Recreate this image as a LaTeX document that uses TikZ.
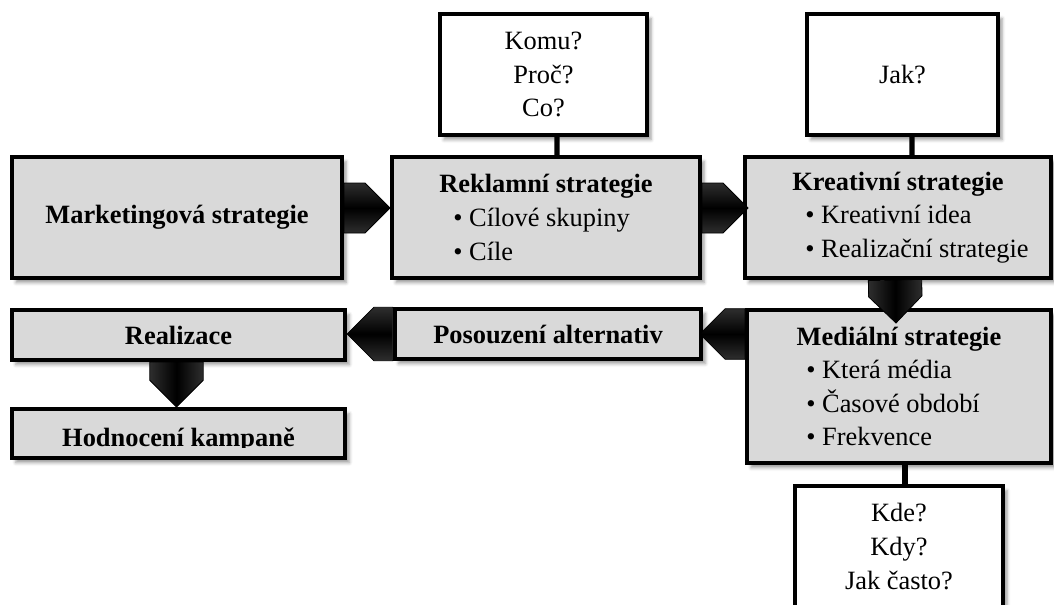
\documentclass[tikz,border=0pt]{standalone}
\usepackage{fontspec}
\setmainfont{Liberation Serif}
\usetikzlibrary{calc,shadows.blur}
\definecolor{boxgray}{RGB}{217,217,217}
\tikzstyle{box} = [draw=black, line width=3pt, fill=boxgray, align=center, inner sep=0pt, font=\fontsize{19.8}{25.2}\selectfont, blur shadow={shadow xshift=3pt, shadow yshift=-3.5pt, shadow blur radius=2.5pt}]
\tikzstyle{qbox} = [box, fill=white]
\tikzstyle{link} = [line width=4pt]
\tikzstyle{barrow} = [draw=black, line width=0.6pt, top color=black!82, bottom color=black!82, middle color=black]

\newlength{\bulw}
\setlength{\bulw}{139pt}
\newcommand{\bitem}[1]{\makebox[\bulw][l]{\textbullet\ #1}}
% block arrow: start, tip, half width, shading angle
\newcommand{\blockarrow}[4]{%
    \path (#1) coordinate (ba-s) (#2) coordinate (ba-t);
    \path ($(ba-t)!#3!(ba-s)$) coordinate (ba-h);
    \shade[barrow, shading angle=#4] ($(ba-s)!#3!90:(ba-t)$) -- ($(ba-h)!#3!90:(ba-t)$) -- (ba-t)
        -- ($(ba-h)!#3!-90:(ba-t)$) -- ($(ba-s)!#3!-90:(ba-t)$) -- cycle;
}

\begin{document}
\begin{tikzpicture}[x=0.75pt, y=-0.75pt]
    \path[use as bounding box, clip] (0,0) rectangle (1054,604);

    % Question boxes
    \node[qbox, minimum width=155.25pt, minimum height=90.75pt] (komu) at (543.5,74.5) {Komu?\\Proč?\\Co?};
    \node[qbox, minimum width=143.25pt, minimum height=90.75pt] (jak) at (902.5,74.5) {Jak?};

    % Top row
    \node[box, minimum width=247.5pt, minimum height=90.75pt] (mark) at (177,217.5) {\textbf{Marketingová strategie}};
    \node[box, minimum width=231pt, minimum height=90.75pt] (rek) at (546,217.5)
        {\textbf{Reklamní strategie}\\\bitem{Cílové skupiny}\\\bitem{Cíle}};
    \node[box, minimum width=229.5pt, minimum height=90.75pt] (kreat) at (898,217.5)
        {\textbf{Kreativní strategie}\\\bitem{Kreativní idea}\\\bitem{Realizační strategie}};

    % Links to questions
    \draw[link] ([xshift=10.1pt]komu.south) -- ([xshift=8.25pt]rek.north);
    \draw[link] ([xshift=7.1pt]jak.south) -- ([xshift=10.5pt]kreat.north);

    % Second row
    \node[box, minimum width=250pt, minimum height=37.5pt] (realiz) at (178.5,335) {\textbf{Realizace}};
    \node[box, minimum width=230pt, minimum height=37.5pt] (posouz) at (548,334) {\textbf{Posouzení alternativ}};
    \node[box, minimum width=228pt, minimum height=114.75pt] (media) at (899,386.5)
        {\textbf{Mediální strategie}\\\bitem{Která média}\\\bitem{Časové období}\\\bitem{Frekvence}};

    % Evaluation box, text cut at the bottom
    \node[box, minimum width=250pt, minimum height=36.75pt] (hodn) at (178.5,433.5) {};
    \begin{scope}
        \clip (hodn.north west) rectangle ([yshift=9.75pt]hodn.south east);
        \node[anchor=base, inner sep=0pt, font=\fontsize{19.8}{25.2}\selectfont] (hodntxt) at ([yshift=-10.1pt]hodn.center) {\textbf{Hodnocení kampaně}};
    \end{scope}

    % Media questions
    \node[qbox, minimum width=156pt, minimum height=90.75pt] (kde) at (899,546.5) {Kde?\\Kdy?\\Jak často?};
    \draw[link] ([xshift=4.5pt]media.south) -- ([xshift=4.5pt]kde.north);

    % Block arrows
    \blockarrow{[yshift=7.1pt]mark.east}{[yshift=7.1pt]rek.west}{18.75pt}{0}
    \blockarrow{[yshift=7.1pt]rek.east}{[xshift=3.75pt, yshift=7.1pt]kreat.west}{18.75pt}{0}
    \blockarrow{[xshift=-2.25pt]kreat.south}{[xshift=-2.25pt, yshift=-11.25pt]media.north}{20pt}{90}
    \blockarrow{media.west |- posouz.east}{[xshift=-2.6pt]posouz.east}{19pt}{0}
    \blockarrow{posouz.west}{posouz.west -| realiz.east}{20pt}{0}
    \blockarrow{[xshift=-1.5pt]realiz.south}{[xshift=-1.5pt]hodn.north}{20pt}{90}
\end{tikzpicture}
\end{document}
